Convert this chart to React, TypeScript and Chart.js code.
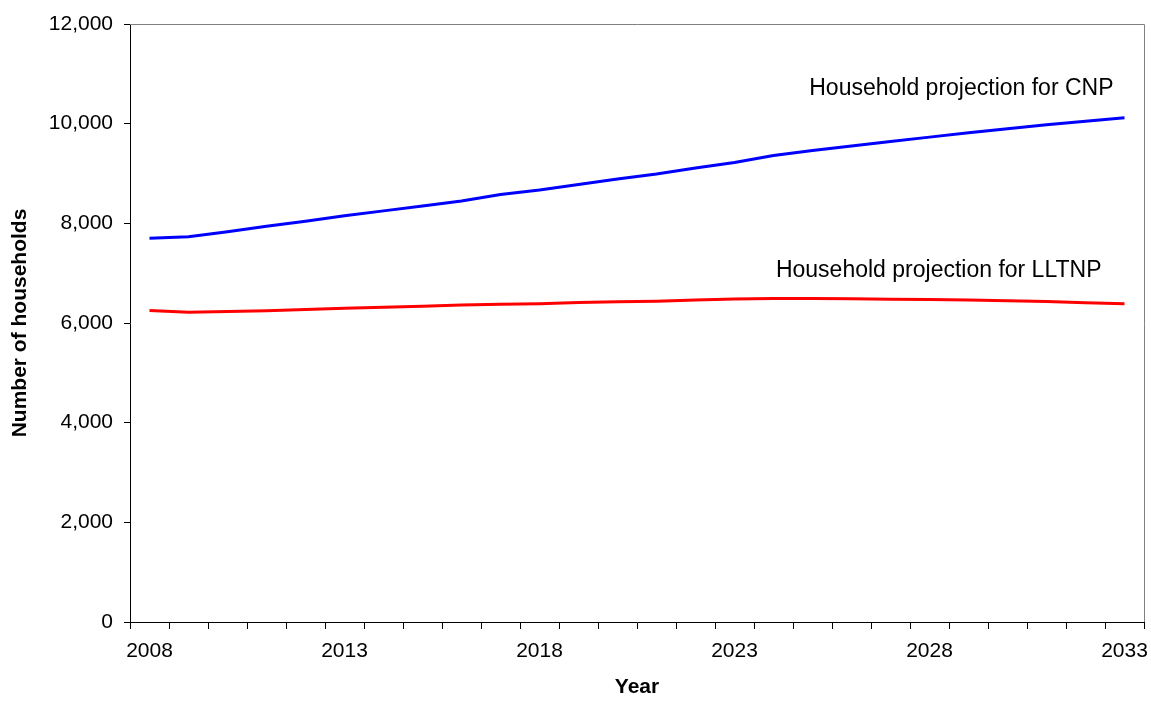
import React, { useEffect, useRef } from "react";
import { Chart, registerables } from "chart.js";

Chart.register(...registerables);

const years: string[] = [
  "2008", "2009", "2010", "2011", "2012", "2013", "2014", "2015", "2016", "2017",
  "2018", "2019", "2020", "2021", "2022", "2023", "2024", "2025", "2026", "2027",
  "2028", "2029", "2030", "2031", "2032", "2033",
];

const cnpHouseholds: number[] = [
  7700, 7730, 7830, 7940, 8040, 8150, 8250, 8350, 8450, 8580,
  8670, 8780, 8890, 8990, 9110, 9220, 9360, 9460, 9550, 9640,
  9730, 9820, 9900, 9980, 10050, 10120,
];

const lltnpHouseholds: number[] = [
  6250, 6215, 6230, 6245, 6270, 6295, 6315, 6335, 6360, 6375,
  6385, 6410, 6425, 6435, 6460, 6480, 6490, 6490, 6485, 6475,
  6470, 6460, 6445, 6430, 6405, 6385,
];

const seriesNames: string[] = ["Household projection for CNP", "Household projection for LLTNP"];
const labelAnchorYears: string[] = ["2033", "2033"];
const labelAnchorValues: number[] = [10570, 6917];
const labelOffsetsPx: number[] = [11, 23];

const yTickValues: number[] = [0, 2000, 4000, 6000, 8000, 10000, 12000];
const xLabelEvery = 5;

const FONT = "'Liberation Sans', Arial, sans-serif";

const labelPlugin = {
  id: "seriesLabels",
  afterDraw(chart: any) {
    const { ctx, chartArea, scales } = chart;
    ctx.save();
    // top and right frame in grey
    ctx.strokeStyle = "#808080";
    ctx.lineWidth = 1;
    ctx.beginPath();
    ctx.moveTo(chartArea.left, chartArea.top + 0.5);
    ctx.lineTo(chartArea.right + 0.5, chartArea.top + 0.5);
    ctx.lineTo(chartArea.right + 0.5, chartArea.bottom);
    ctx.stroke();
    ctx.fillStyle = "#000";
    ctx.font = `23px ${FONT}`;
    ctx.textAlign = "right";
    ctx.textBaseline = "alphabetic";
    seriesNames.forEach((name, i) => {
      const x = scales.x.getPixelForValue(years.indexOf(labelAnchorYears[i])) - labelOffsetsPx[i];
      const y = scales.y.getPixelForValue(labelAnchorValues[i]);
      ctx.fillText(name, x, y);
    });
    ctx.restore();
  },
};

export default function App() {
  const canvasRef = useRef<HTMLCanvasElement | null>(null);

  useEffect(() => {
    if (!canvasRef.current) return;
    const chart = new Chart(canvasRef.current, {
      type: "line",
      data: {
        labels: years,
        datasets: [
          {
            label: seriesNames[0],
            data: cnpHouseholds,
            borderColor: "#0000FF",
            backgroundColor: "#0000FF",
            borderWidth: 3,
            pointRadius: 0,
            tension: 0,
          },
          {
            label: seriesNames[1],
            data: lltnpHouseholds,
            borderColor: "#FF0000",
            backgroundColor: "#FF0000",
            borderWidth: 3,
            pointRadius: 0,
            tension: 0,
          },
        ],
      },
      options: {
        animation: false,
        responsive: true,
        maintainAspectRatio: false,
        layout: { padding: { top: 24, right: 7, left: 0, bottom: 0 } },
        plugins: {
          legend: { display: false },
          tooltip: { enabled: false },
        },
        scales: {
          x: {
            type: "category",
            offset: true,
            afterFit: (scale: any) => {
              scale.height = 80;
              scale.paddingLeft = 0;
              scale.paddingRight = 0;
            },
            grid: {
              offset: true,
              drawOnChartArea: false,
              drawTicks: true,
              tickLength: 7,
              color: "#000",
            },
            border: { display: true, color: "#000", width: 1 },
            ticks: {
              autoSkip: false,
              maxRotation: 0,
              color: "#000",
              padding: 10,
              font: { family: FONT, size: 21 },
              callback: (_v: any, i: number) => (i % xLabelEvery === 0 ? years[i] : ""),
            },
            title: {
              display: true,
              text: "Year",
              color: "#000",
              font: { family: FONT, size: 21, weight: "bold" },
              padding: { top: 0, bottom: 2 },
            },
          },
          y: {
            min: 0,
            max: 12000,
            afterFit: (scale: any) => {
              scale.width = 130;
              scale.paddingTop = 0;
              scale.paddingBottom = 0;
            },
            afterBuildTicks: (scale: any) => {
              scale.ticks = yTickValues.map((v) => ({ value: v }));
            },
            grid: {
              drawOnChartArea: false,
              drawTicks: true,
              tickLength: 6,
              color: "#000",
            },
            border: { display: true, color: "#000", width: 1 },
            ticks: {
              color: "#000",
              padding: 11,
              font: { family: FONT, size: 21 },
              callback: (v: any) => Number(v).toLocaleString("en-US"),
            },
            title: {
              display: true,
              text: "Number of households",
              color: "#000",
              font: { family: FONT, size: 21, weight: "bold" },
              padding: { top: 8, bottom: 0 },
            },
          },
        },
      },
      plugins: [labelPlugin],
    });
    return () => chart.destroy();
  }, []);

  return (
    <div style={{ position: "absolute", left: 0, top: 0, width: 1151, height: 702, background: "#fff" }}>
      <canvas ref={canvasRef} />
    </div>
  );
}
